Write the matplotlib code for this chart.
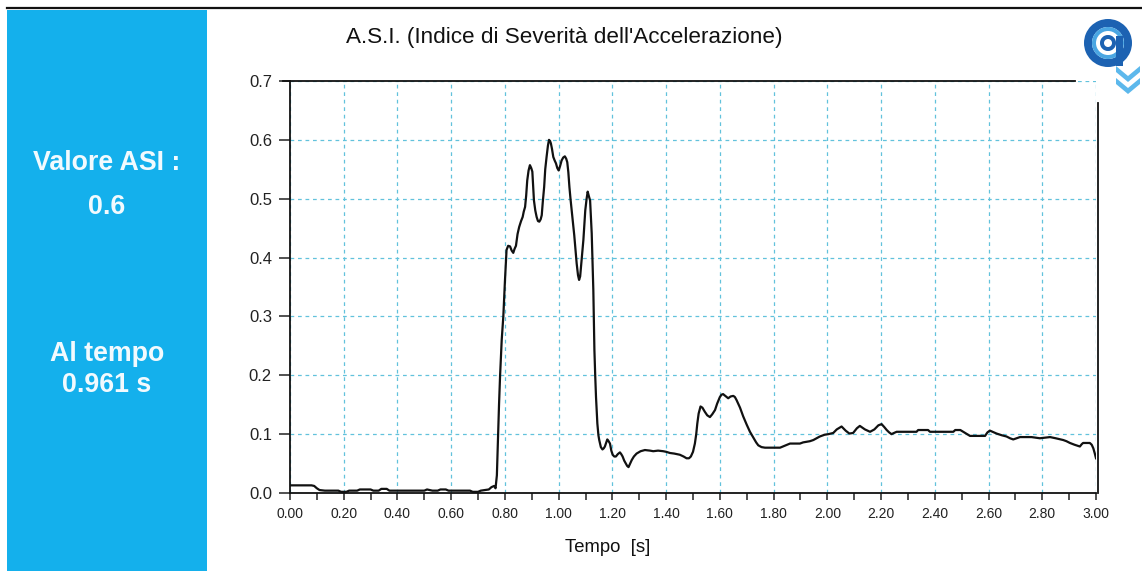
import numpy as np
import matplotlib.pyplot as plt
from matplotlib import font_manager
from matplotlib.patches import Rectangle, Wedge, Polygon

# ASI time history (s, -)
t = [0.00, 0.08, 0.09, 0.10, 0.11, 0.13, 0.18, 0.19, 0.21, 0.22, 0.25, 0.26, 0.30, 0.31,
     0.33, 0.34, 0.36, 0.37, 0.50, 0.51, 0.53, 0.55, 0.56, 0.58, 0.59, 0.67, 0.68, 0.70,
     0.71, 0.74, 0.75, 0.76, 0.765, 0.770, 0.774, 0.778, 0.782, 0.788, 0.794, 0.800, 0.806,
     0.812, 0.819, 0.825, 0.831, 0.836, 0.841, 0.847, 0.853, 0.860, 0.866, 0.870, 0.875,
     0.879, 0.883, 0.888, 0.893, 0.898, 0.902, 0.905, 0.908, 0.913, 0.918, 0.923, 0.928,
     0.933, 0.937, 0.941, 0.946, 0.950, 0.955, 0.960, 0.964, 0.968, 0.971, 0.975, 0.980,
     0.985, 0.990, 0.995, 1.000, 1.005, 1.011, 1.017, 1.023, 1.028, 1.032, 1.036, 1.040,
     1.044, 1.048, 1.053, 1.058, 1.063, 1.067, 1.072, 1.076, 1.080, 1.083, 1.088, 1.092,
     1.096, 1.099, 1.104, 1.108, 1.112, 1.117, 1.120, 1.123, 1.126, 1.129, 1.131, 1.133,
     1.136, 1.139, 1.144, 1.148, 1.151, 1.157, 1.163, 1.168, 1.172, 1.177, 1.181, 1.186,
     1.191, 1.196, 1.201, 1.207, 1.213, 1.220, 1.228, 1.233, 1.238, 1.244, 1.250, 1.255,
     1.260, 1.266, 1.272, 1.280, 1.290, 1.305, 1.321, 1.340, 1.352, 1.370, 1.389, 1.400,
     1.414, 1.430, 1.451, 1.465, 1.476, 1.485, 1.492, 1.500, 1.507, 1.512, 1.516, 1.521,
     1.528, 1.535, 1.544, 1.553, 1.563, 1.572, 1.582, 1.590, 1.600, 1.606, 1.612, 1.620,
     1.631, 1.640, 1.650, 1.656, 1.662, 1.675, 1.687, 1.700, 1.712, 1.725, 1.735, 1.743,
     1.755, 1.768, 1.800, 1.824, 1.840, 1.861, 1.880, 1.898, 1.910, 1.923, 1.935, 1.948,
     1.960, 1.972, 1.990, 2.004, 2.022, 2.035, 2.053, 2.068, 2.082, 2.096, 2.110, 2.121,
     2.140, 2.159, 2.175, 2.190, 2.202, 2.212, 2.221, 2.230, 2.239, 2.248, 2.258, 2.332,
     2.338, 2.375, 2.382, 2.469, 2.476, 2.495, 2.506, 2.520, 2.531, 2.587, 2.596, 2.605,
     2.615, 2.630, 2.650, 2.667, 2.680, 2.692, 2.705, 2.717, 2.760, 2.791, 2.810, 2.829,
     2.850, 2.878, 2.890, 2.903, 2.920, 2.940, 2.947, 2.952, 2.977, 2.984, 2.990, 2.995,
     3.000]
asi = [0.013, 0.013, 0.012, 0.008, 0.005, 0.004, 0.004, 0.002, 0.002, 0.004, 0.004, 0.006,
       0.006, 0.004, 0.004, 0.007, 0.007, 0.004, 0.004, 0.006, 0.004, 0.004, 0.006, 0.006,
       0.004, 0.004, 0.002, 0.002, 0.004, 0.006, 0.010, 0.012, 0.008, 0.030, 0.090, 0.150,
       0.200, 0.260, 0.300, 0.360, 0.413, 0.420, 0.419, 0.412, 0.408, 0.415, 0.420, 0.440,
       0.452, 0.462, 0.469, 0.478, 0.486, 0.505, 0.531, 0.548, 0.557, 0.552, 0.546, 0.520,
       0.497, 0.480, 0.469, 0.462, 0.461, 0.465, 0.472, 0.495, 0.520, 0.550, 0.571, 0.590,
       0.600, 0.598, 0.594, 0.585, 0.571, 0.565, 0.560, 0.552, 0.548, 0.555, 0.565, 0.570,
       0.572, 0.568, 0.562, 0.545, 0.520, 0.500, 0.483, 0.460, 0.438, 0.412, 0.390, 0.370,
       0.362, 0.368, 0.384, 0.410, 0.430, 0.460, 0.480, 0.500, 0.512, 0.505, 0.497, 0.470,
       0.441, 0.390, 0.345, 0.290, 0.243, 0.200, 0.163, 0.118, 0.098, 0.090, 0.078, 0.074,
       0.076, 0.079, 0.086, 0.091, 0.088, 0.084, 0.072, 0.065, 0.062, 0.062, 0.066, 0.069,
       0.066, 0.062, 0.055, 0.050, 0.046, 0.044, 0.050, 0.056, 0.062, 0.067, 0.071, 0.073,
       0.072, 0.071, 0.072, 0.071, 0.070, 0.068, 0.067, 0.065, 0.062, 0.059, 0.059, 0.062,
       0.070, 0.084, 0.100, 0.118, 0.135, 0.147, 0.145, 0.138, 0.132, 0.129, 0.134, 0.141,
       0.152, 0.163, 0.167, 0.168, 0.165, 0.161, 0.164, 0.165, 0.163, 0.158, 0.145, 0.130,
       0.116, 0.104, 0.094, 0.086, 0.081, 0.078, 0.077, 0.077, 0.077, 0.080, 0.084, 0.084,
       0.084, 0.086, 0.087, 0.088, 0.090, 0.093, 0.096, 0.099, 0.100, 0.102, 0.108, 0.113,
       0.106, 0.101, 0.102, 0.110, 0.114, 0.108, 0.104, 0.108, 0.115, 0.117, 0.112, 0.107,
       0.103, 0.100, 0.102, 0.104, 0.104, 0.107, 0.107, 0.104, 0.104, 0.107, 0.107, 0.104,
       0.100, 0.097, 0.097, 0.103, 0.106, 0.104, 0.101, 0.098, 0.096, 0.093, 0.091, 0.093,
       0.095, 0.095, 0.093, 0.094, 0.095, 0.093, 0.090, 0.088, 0.085, 0.082, 0.079, 0.083,
       0.085, 0.085, 0.082, 0.076, 0.068, 0.059]

asi_value = 0.6
asi_time = 0.961
chart_title = "A.S.I. (Indice di Severità dell'Accelerazione)"
x_label = "Tempo  [s]"
x_major = np.arange(0, 3.001, 0.2)
x_minor = np.arange(0.1, 3.0, 0.2)
y_major = np.arange(0, 0.701, 0.1)

W, H = 1142, 571
BLUE = '#14b0ec'
GRID = '#62c2dc'
plt.rcParams['font.family'] = ['Liberation Sans', 'DejaVu Sans']

names = {f.name for f in font_manager.fontManager.ttflist}
if 'Liberation Sans Narrow' in names:
    xtick_font, xtick_size = 'Liberation Sans Narrow', 12
else:
    xtick_font, xtick_size = 'Liberation Sans', 10

fig = plt.figure(figsize=(W / 100, H / 100), dpi=100)

# background layer in pixel units: side panel and top rule
bg = fig.add_axes([0, 0, 1, 1], zorder=0)
bg.set_xlim(0, W)
bg.set_ylim(H, 0)
bg.axis('off')
bg.add_patch(Rectangle((7, 10), 200, H - 10, color=BLUE, lw=0))
bg.plot([7, W], [8, 8], color='#111111', lw=1.6)
txt = dict(color='#f2fafe', fontsize=19.3, fontweight='bold', ha='center', va='center')
bg.text(107, 163, 'Valore ASI :', **txt)
bg.text(107, 207, f'{asi_value:.1f}', **txt)
bg.text(107, 354, 'Al tempo', **txt)
bg.text(107, 385, f'{asi_time:.3f} s', **txt)
bg.text(564, 38, chart_title, fontsize=16.2, color='#111111', ha='center', va='center')
bg.text(608, 548, x_label, fontsize=13.3, color='#111111', ha='center', va='center')

# the ASI chart
ax = fig.add_axes([290 / W, 1 - 493 / H, 806 / W, 412 / H], zorder=1)
ax.plot(t, asi, color='#111111', lw=1.6, zorder=3)
ax.set_xlim(0, 3)
ax.set_ylim(0, 0.7)
ax.set_xticks(x_major)
ax.set_xticklabels([f'{v:.2f}' for v in x_major], family=xtick_font, fontsize=xtick_size)
ax.set_xticks(x_minor, minor=True)
ax.set_yticks(y_major)
ax.set_yticklabels([f'{v:.1f}' for v in y_major], fontsize=12)
ax.tick_params(axis='x', which='both', direction='out', length=5, width=1.1, pad=5, colors='#222222')
ax.tick_params(axis='y', direction='out', length=8, width=1.1, pad=5, colors='#222222')
ax.grid(True, which='major', color=GRID, ls=(0, (3, 3)), lw=0.9)
for side in ('top', 'right'):
    ax.spines[side].set_visible(False)
for side in ('left', 'bottom'):
    ax.spines[side].set_linewidth(1.3)
    ax.spines[side].set_color('#111111')
# frame stops short in the top-right corner, where the logo sits
ax.plot([-0.009, 0.974], [1, 1], transform=ax.transAxes, clip_on=False, color='#111111', lw=1.3)
ax.plot([1.003, 1.003], [0, 0.947], transform=ax.transAxes, clip_on=False, color='#111111', lw=1.3)

# logo
fg = fig.add_axes([0, 0, 1, 1], zorder=3)
fg.set_xlim(0, W)
fg.set_ylim(H, 0)
fg.axis('off')
fg.patch.set_alpha(0)
fg.add_patch(Wedge((1108, 43), 24, 0, 360, width=8, color='#1c62b2', lw=0))
fg.add_patch(Wedge((1108, 43), 16, 0, 360, width=4, color='#4aa6e2', lw=0))
fg.add_patch(Wedge((1108, 43), 8, 0, 360, width=4, color='#1c62b2', lw=0))
fg.add_patch(Rectangle((1116, 36), 7, 30, color='#1c62b2', lw=0))
for y0 in (66, 78):
    fg.add_patch(Polygon([(1116, y0), (1128, y0 + 10), (1140, y0), (1140, y0 + 6),
                          (1128, y0 + 16), (1116, y0 + 6)], closed=True, color='#5cb8ec', lw=0))

fig.savefig('out.png', dpi=100)
